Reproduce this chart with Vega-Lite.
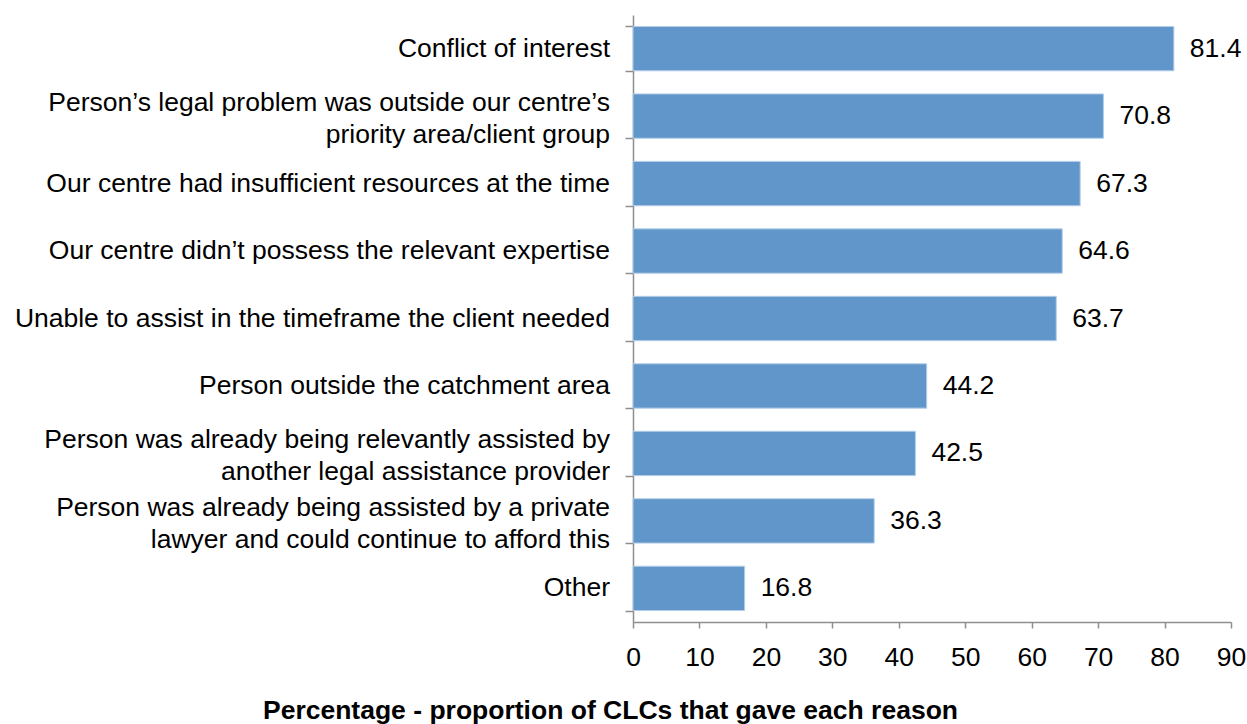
{
  "$schema": "https://vega.github.io/schema/vega-lite/v6.json",
  "width": 598,
  "height": 607,
  "autosize": {"type": "none"},
  "padding": {"left": 633, "top": 15, "right": 16, "bottom": 102},
  "background": "white",
  "config": {"view": {"stroke": null}, "font": "Liberation Sans"},
  "data": {
    "values": [
      {"reason": "Conflict of interest", "pct": 81.4},
      {"reason": "Person’s legal problem was outside our centre’s|priority area/client group", "pct": 70.8},
      {"reason": "Our centre had insufficient resources at the time", "pct": 67.3},
      {"reason": "Our centre didn’t possess the relevant expertise", "pct": 64.6},
      {"reason": "Unable to assist in the timeframe the client needed", "pct": 63.7},
      {"reason": "Person outside the catchment area", "pct": 44.2},
      {"reason": "Person was already being relevantly assisted by|another legal assistance provider", "pct": 42.5},
      {"reason": "Person was already being assisted by a private|lawyer and could continue to afford this", "pct": 36.3},
      {"reason": "Other", "pct": 16.8}
    ]
  },
  "encoding": {
    "y": {
      "field": "reason",
      "type": "nominal",
      "sort": null,
      "scale": {"paddingInner": 0.343, "paddingOuter": 0.17},
      "axis": {
        "title": null,
        "labels": false,
        "tickBand": "extent",
        "tickSize": 8,
        "tickWidth": 1.5,
        "tickColor": "#8e8e8e",
        "domainColor": "#8e8e8e",
        "domainWidth": 1.5
      }
    }
  },
  "layer": [
    {
      "mark": {"type": "bar", "color": "#6096C9", "stroke": "#B3CDE9", "strokeWidth": 1},
      "encoding": {
        "x": {
          "field": "pct",
          "type": "quantitative",
          "scale": {"domain": [0, 90], "nice": false},
          "axis": {
            "values": [0, 10, 20, 30, 40, 50, 60, 70, 80, 90],
            "grid": false,
            "labelFontSize": 26.5,
            "labelColor": "#000000",
            "labelFlush": false,
            "labelPadding": 16,
            "tickSize": 6,
            "tickWidth": 1.5,
            "tickColor": "#8e8e8e",
            "domainColor": "#8e8e8e",
            "domainWidth": 1.5,
            "title": "Percentage - proportion of CLCs that gave each reason",
            "titleFontSize": 26.5,
            "titleFontWeight": "bold",
            "titleColor": "#000000",
            "titleX": -23,
            "titleY": 96,
            "titleAlign": "center",
            "titleBaseline": "alphabetic"
          }
        }
      }
    },
    {
      "mark": {"type": "text", "align": "left", "baseline": "middle", "dx": 16, "fontSize": 26.5, "color": "#000000"},
      "encoding": {
        "x": {"field": "pct", "type": "quantitative", "title": "Percentage - proportion of CLCs that gave each reason"},
        "text": {"field": "pct", "type": "quantitative", "format": ".1f"}
      }
    },
    {
      "transform": [{"filter": "indexof(datum.reason, '|') < 0"}],
      "mark": {"type": "text", "align": "right", "baseline": "middle", "dx": -23, "fontSize": 26.5, "color": "#000000", "clip": false},
      "encoding": {
        "x": {"datum": 0, "type": "quantitative", "title": "Percentage - proportion of CLCs that gave each reason"},
        "text": {"field": "reason", "type": "nominal"}
      }
    },
    {
      "transform": [{"filter": "indexof(datum.reason, '|') >= 0"}],
      "mark": {"type": "text", "align": "right", "baseline": "middle", "dx": -23, "dy": -13, "lineBreak": "|", "lineHeight": 32, "fontSize": 26.5, "color": "#000000", "clip": false},
      "encoding": {
        "x": {"datum": 0, "type": "quantitative", "title": "Percentage - proportion of CLCs that gave each reason"},
        "text": {"field": "reason", "type": "nominal"}
      }
    }
  ]
}
